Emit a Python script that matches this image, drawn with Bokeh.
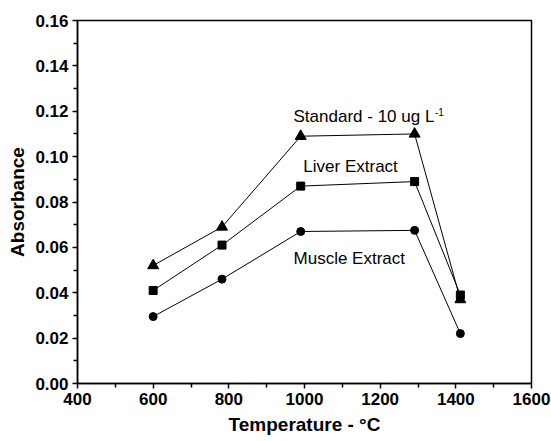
from bokeh.plotting import figure
from bokeh.models import Range1d, Label, PrintfTickFormatter, FixedTicker
from bokeh.embed import file_html
from bokeh.resources import INLINE

temperature = [600, 782, 990, 1291, 1412]
standard = [0.052, 0.069, 0.109, 0.110, 0.037]
liver = [0.041, 0.061, 0.087, 0.089, 0.039]
muscle = [0.0295, 0.046, 0.067, 0.0675, 0.022]

x_ticks = [400, 600, 800, 1000, 1200, 1400, 1600]
y_ticks = [0.00, 0.02, 0.04, 0.06, 0.08, 0.10, 0.12, 0.14, 0.16]

FONT = "Liberation Sans"

p = figure(width=551, height=441, output_backend="svg", toolbar_location=None,
           x_range=Range1d(400, 1600), y_range=Range1d(0, 0.16),
           min_border_left=77, min_border_right=20, min_border_top=20, min_border_bottom=58)
p.background_fill_color = "white"
p.border_fill_color = "white"
p.outline_line_color = "black"
p.outline_line_width = 1.5
p.xgrid.visible = False
p.ygrid.visible = False

for ax in (p.xaxis[0], p.yaxis[0]):
    ax.axis_line_width = 1.5
    ax.major_tick_line_width = 1.5
    ax.minor_tick_line_width = 1.5
    ax.major_tick_out = 5
    ax.major_tick_in = 0
    ax.minor_tick_out = 4
    ax.minor_tick_in = 0
    ax.major_label_text_font = FONT
    ax.major_label_text_font_style = "bold"
    ax.major_label_text_font_size = "17px"
    ax.major_label_text_color = "black"
    ax.axis_label_text_font = FONT
    ax.axis_label_text_font_style = "bold"
    ax.axis_label_text_font_size = "19px"
    ax.axis_label_text_color = "black"

p.xaxis.ticker = FixedTicker(ticks=x_ticks, minor_ticks=[500, 700, 900, 1100, 1300, 1500])
p.yaxis.ticker = FixedTicker(ticks=y_ticks, minor_ticks=[0.01, 0.03, 0.05, 0.07, 0.09, 0.11, 0.13, 0.15])
p.yaxis.formatter = PrintfTickFormatter(format="%.2f")
p.xaxis.major_label_standoff = 4
p.yaxis.major_label_standoff = 4
p.xaxis.axis_label = "Temperature - °C"
p.yaxis.axis_label = "Absorbance"
p.xaxis.axis_label_standoff = 6
p.yaxis.axis_label_standoff = 4

for series, marker, size in ((standard, "triangle", 11), (liver, "square", 8), (muscle, "circle", 8)):
    p.line(temperature, series, line_color="black", line_width=1)
    p.scatter(temperature, series, marker=marker, size=size, fill_color="black", line_color="black")

lab_style = dict(text_font=FONT, text_font_size="17px", text_color="black", text_baseline="alphabetic")
p.add_layout(Label(x=971, y=0.1178, text="Standard - 10 ug L", **lab_style))
p.add_layout(Label(x=1345, y=0.1215, text="-1", text_font=FONT, text_font_size="10px",
                   text_color="black", text_baseline="top"))
p.add_layout(Label(x=997, y=0.0955, text="Liver Extract", **lab_style))
p.add_layout(Label(x=971, y=0.0551, text="Muscle Extract", **lab_style))

open("out.html", "w").write(file_html(p, INLINE))
